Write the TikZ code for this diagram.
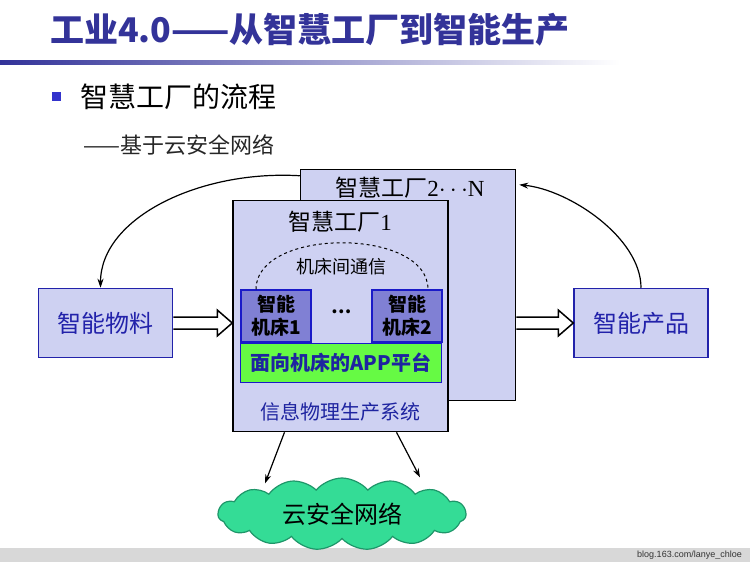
\documentclass[tikz,border=0pt]{standalone}
\usepackage{fontspec}
\setmainfont{Noto Sans CJK SC}
\newfontfamily\numfont{Liberation Serif}
\newfontfamily\urlfont{Liberation Sans}
\usetikzlibrary{arrows.meta,shapes.symbols}
\definecolor{titleblue}{RGB}{51,51,153}
\definecolor{bulletblue}{RGB}{51,51,204}
\definecolor{lav}{RGB}{206,209,242}
\definecolor{boxblue}{RGB}{34,34,170}
\definecolor{machblue}{RGB}{128,128,212}
\definecolor{edgeblue}{RGB}{26,26,200}
\definecolor{appgreen}{RGB}{102,250,68}
\definecolor{textblue}{RGB}{30,36,160}
\definecolor{cloudgreen}{RGB}{52,220,150}
\definecolor{cloudedge}{RGB}{30,150,105}
\definecolor{pagegray}{RGB}{216,216,216}

\begin{document}
\begin{tikzpicture}[x=1pt,y=-1pt]
    \useasboundingbox (0,0) rectangle (750,562);
    \fill[pagegray] (0,548) rectangle (750,562);
    \node[anchor=east, inner sep=0, text=black!80, font=\urlfont\fontsize{9}{9}\selectfont] (URL) at (742,555) {blog.163.com/lanye\_chloe};

    % title and subtitle
    \node[anchor=west, inner sep=0, text=titleblue, font=\bfseries\fontsize{34}{34}\selectfont] (T0) at (50,30) {工业4.0——从智慧工厂到智能生产};
    \shade[left color=titleblue, right color=white] (0,60) rectangle (620,64);
    \fill[bulletblue] (52,92) rectangle (61,101);
    \node[anchor=west, inner sep=0, font=\fontsize{28}{28}\selectfont] (T1) at (80,97) {智慧工厂的流程};
    \node[anchor=west, inner sep=0, text=black!85, font=\fontsize{22}{22}\selectfont] (T2) at (83,145) {——基于云安全网络};

    \tikzstyle{usine}=[draw=black, line width=1.5pt, fill=lav, minimum width=215pt, minimum height=231pt, inner sep=0]
    \tikzstyle{bout}=[draw=boxblue, line width=1.5pt, fill=lav, minimum width=134pt, minimum height=69pt, inner sep=0, text=boxblue, font=\fontsize{24}{24}\selectfont]
    \tikzstyle{machine}=[draw=edgeblue, line width=1.5pt, fill=machblue, minimum width=70pt, minimum height=52pt, inner sep=0, align=center, font=\bfseries\fontsize{19}{23}\selectfont]
    \node[usine] (F2) at (408,285) {};
    \node[font=\fontsize{23}{23}\selectfont] (F2T) at (410,188) {智慧工厂{\numfont 2$\cdots$N}};
    \node[usine] (F1) at (340.5,316) {};
    \node[font=\fontsize{23}{23}\selectfont] (F1T) at (340,222) {智慧工厂{\numfont 1}};

    \node[machine] (M1) at (276,316) {智能\\机床1};
    \node[machine] (M2) at (407,316) {智能\\机床2};
    \node[font=\bfseries\fontsize{18}{18}\selectfont] (DOTS) at (342,312) {…};
    \node[draw=edgeblue, line width=1.5pt, fill=appgreen, minimum width=201pt, minimum height=39pt, inner sep=0, text=textblue, font=\bfseries\fontsize{20}{20}\selectfont] (APP) at (341,363) {面向机床的APP平台};
    \node[text=textblue, font=\fontsize{20}{20}\selectfont] (CPS) at (340,412) {信息物理生产系统};

    % communication between machines
    \draw[dashed, line width=1pt] ([xshift=-20pt]M1.north) .. controls +(0,-62) and +(0,-62) .. ([xshift=21pt]M2.north);
    \node[font=\fontsize{18}{18}\selectfont] (COM) at (341,267) {机床间通信};

    \node[bout] (WL) at (105.5,323) {智能物料};
    \node[bout] (CP) at (641,323) {智能产品};
    \node[cloud, cloud puffs=15, cloud puff arc=100, aspect=3.6, draw=cloudedge, line width=1.2pt, fill=cloudgreen, minimum width=248pt, minimum height=72pt, inner sep=0, font=\fontsize{24}{24}\selectfont] (YUN) at (342,514) {云安全网络};

    \tikzstyle{hollow}=[draw=black, line width=1.5pt, fill=white, line join=miter]
    \tikzstyle{link}=[-{Stealth[length=9pt,width=6pt]}, line width=1.2pt]
    \coordinate (H1) at (WL.east -| F1.west);
    \coordinate (H2) at (F2.east |- CP.west);
    \draw[hollow] ([shift={(0,-6)}]WL.east) -- ([shift={(-15,-6)}]H1) -- ([shift={(-15,-13)}]H1) -- (H1)
        -- ([shift={(-15,13)}]H1) -- ([shift={(-15,6)}]H1) -- ([shift={(0,6)}]WL.east);
    \draw[hollow] ([shift={(0,-6)}]H2) -- ([shift={(-15,-6)}]CP.west) -- ([shift={(-15,-13)}]CP.west) -- (CP.west)
        -- ([shift={(-15,13)}]CP.west) -- ([shift={(-15,6)}]CP.west) -- ([shift={(0,6)}]H2);
    \draw[link] ([yshift=-7pt]F2.north west) .. controls +(-100,-6) and +(0,-70) .. ([xshift=-5pt]WL.north);
    \draw[link] (CP.north) .. controls +(0,-50) and +(50,5) .. ([shift={(3,16)}]F2.north east);
    \draw[link] ([xshift=-56pt]F1.south) -- ([shift={(-77,6)}]YUN.north);
    \draw[link] ([xshift=56pt]F1.south) -- ([shift={(78,0)}]YUN.north);
\end{tikzpicture}
\end{document}
